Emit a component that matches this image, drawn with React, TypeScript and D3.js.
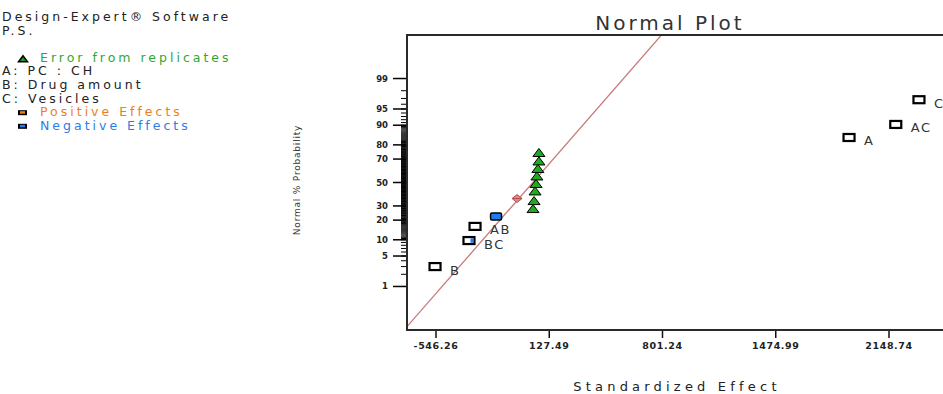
import React from "react";
import * as d3 from "d3";

// ---- data ----
const xTicks = [-546.26, 127.49, 801.24, 1474.99, 2148.74];
const xTickLabels = ["-546.26", "127.49", "801.24", "1474.99", "2148.74"];
const yTicks = [1, 5, 10, 20, 30, 50, 70, 80, 90, 95, 99];

// labelled factor effects
const factorLabels = ["B", "BC", "AB", "A", "AC", "C"];
const factorEffects = [-552, -350, -314, 1911, 2189, 2327];
const factorProbs = [3.0, 9.7, 16.3, 84.3, 90.3, 96.8];
const factorKinds = ["plain", "halfBlue", "plain", "plain", "plain", "plain"];

// error from replicates (green triangles)
const errorEffects = [66, 66, 60, 54, 49, 43, 37, 31];
const errorProbs = [74.9, 68.5, 62.3, 55.8, 49.1, 42.5, 34.3, 28.0];

// unlabelled negative effect (blue) and the centre marker
const negEffects = [-189];
const negProbs = [22.3];
const centreEffects = [-64];
const centreProbs = [36.0];

// fitted normal line
const lineMean = 29.5;
const lineSd = 232;

const legendLines = [
  { text: "Design-Expert® Software", color: "#222", glyph: "" },
  { text: "P.S.", color: "#222", glyph: "" },
  { text: "", color: "#222", glyph: "" },
  { text: "Error from replicates", color: "#2fa82f", glyph: "tri" },
  { text: "A: PC : CH", color: "#222", glyph: "" },
  { text: "B: Drug amount", color: "#222", glyph: "" },
  { text: "C: Vesicles", color: "#222", glyph: "" },
  { text: "Positive Effects", color: "#f07d1a", glyph: "pos" },
  { text: "Negative Effects", color: "#2a7de8", glyph: "neg" },
];

// inverse normal CDF (Acklam)
function probit(p: number): number {
  const a = [-3.969683028665376e1, 2.209460984245205e2, -2.759285104469687e2, 1.38357751867269e2, -3.066479806614716e1, 2.506628277459239];
  const b = [-5.447609879822406e1, 1.615858368580409e2, -1.556989798598866e2, 6.680131188771972e1, -1.328068155288572e1];
  const c = [-7.784894002430293e-3, -3.223964580411365e-1, -2.400758277161838, -2.549732539343734, 4.374664141464968, 2.938163982698783];
  const d = [7.784695709041462e-3, 3.224671290700398e-1, 2.445134137142996, 3.754408661907416];
  const pl = 0.02425;
  if (p < pl) {
    const q = Math.sqrt(-2 * Math.log(p));
    return (((((c[0] * q + c[1]) * q + c[2]) * q + c[3]) * q + c[4]) * q + c[5]) / ((((d[0] * q + d[1]) * q + d[2]) * q + d[3]) * q + 1);
  }
  if (p > 1 - pl) {
    const q = Math.sqrt(-2 * Math.log(1 - p));
    return -(((((c[0] * q + c[1]) * q + c[2]) * q + c[3]) * q + c[4]) * q + c[5]) / ((((d[0] * q + d[1]) * q + d[2]) * q + d[3]) * q + 1);
  }
  const q = p - 0.5;
  const r = q * q;
  return ((((((a[0] * r + a[1]) * r + a[2]) * r + a[3]) * r + a[4]) * r + a[5]) * q) / (((((b[0] * r + b[1]) * r + b[2]) * r + b[3]) * r + b[4]) * r + 1);
}

const W = 943;
const H = 394;
const left = 407, right = 965, top = 35, bottom = 330;

const FONT = "'DejaVu Sans', Verdana, sans-serif";

export default function App() {
  const x = d3.scaleLinear().domain([xTicks[0], xTicks[4]]).range([436, 889]);
  const z = d3.scaleLinear().domain([-3.3, 3.3]).range([bottom, top]);
  const y = (pct: number) => z(probit(pct / 100));

  // minor ticks: every 1%, plus half-percent steps in the middle (dense band)
  const minorTicks = d3.range(1, 100).concat(d3.range(10.5, 90, 1));
  const xMin = x.invert(left), xMax = x.invert(right);
  const linePts: [number, number][] = [xMin, xMax].map((v) => [x(v), z((v - lineMean) / lineSd)]);
  const line = d3.line();

  const tri = (cx: number, cy: number, w: number, h: number) =>
    `M${cx - w / 2},${cy + h / 2}L${cx},${cy - h / 2}L${cx + w / 2},${cy + h / 2}Z`;

  return (
    <svg width={W} height={H} style={{ position: "absolute", left: 0, top: 0, background: "#fff" }} fontFamily={FONT}>
      <defs>
        <clipPath id="plotClip">
          <rect x={left} y={top} width={right - left} height={bottom - top} />
        </clipPath>
      </defs>

      {/* legend block */}
      {legendLines.map((l, i) => {
        const ly = 22 + i * 13.6;
        const tx = l.glyph ? 40 : 2;
        return (
          <g key={i}>
            {l.glyph === "tri" && <path d={tri(23, ly - 4, 9, 6)} fill="#1c9a1c" stroke="#000" strokeWidth={1.5} />}
            {l.glyph === "pos" && (
              <g>
                <rect x={18} y={ly - 7} width={9} height={5} fill="#000" />
                <rect x={20} y={ly - 6} width={5} height={2.5} fill="#f07d1a" />
              </g>
            )}
            {l.glyph === "neg" && (
              <g>
                <rect x={18} y={ly - 7} width={9} height={5} fill="#000" />
                <rect x={20} y={ly - 6} width={5} height={2.5} fill="#2a7de8" />
              </g>
            )}
            {l.text && (
              <text x={tx} y={ly - 1} fontSize={12.5} fill={l.color} letterSpacing={3}>
                {l.text}
              </text>
            )}
          </g>
        );
      })}

      {/* title */}
      <text x={670} y={30} textAnchor="middle" fontSize={20} fill="#333" letterSpacing={3}>
        Normal Plot
      </text>

      {/* y axis title */}
      <text
        transform={`translate(300,180) rotate(-90)`}
        textAnchor="middle"
        fontSize={9}
        fill="#333"
        letterSpacing={0.8}
      >
        Normal % Probability
      </text>

      {/* y minor ticks */}
      {minorTicks.map((p) => (
        <line key={p} x1={left - 6} x2={left} y1={y(p)} y2={y(p)} stroke="#000" strokeWidth={1} />
      ))}
      {/* y major ticks */}
      {yTicks.map((p) => (
        <g key={p}>
          <line x1={left - 14} x2={left} y1={y(p)} y2={y(p)} stroke="#000" strokeWidth={1.5} />
          <text x={388} y={y(p) + 3} textAnchor="end" fontSize={8.5} fill="#222" fontWeight="bold">
            {p}
          </text>
        </g>
      ))}

      {/* x ticks */}
      {xTicks.map((v, i) => (
        <g key={v}>
          <line x1={x(v)} x2={x(v)} y1={bottom} y2={bottom + 8} stroke="#111" strokeWidth={1.5} />
          <text x={x(v)} y={349} textAnchor="middle" fontSize={9.5} fill="#222" fontWeight="bold" letterSpacing={0.6}>
            {xTickLabels[i]}
          </text>
        </g>
      ))}

      <text x={677} y={391} textAnchor="middle" fontSize={13} fill="#222" letterSpacing={4.2}>
        Standardized Effect
      </text>

      {/* fitted line */}
      <path d={line(linePts) || ""} stroke="#c77a7a" strokeWidth={1.3} fill="none" clipPath="url(#plotClip)" />

      {/* frame */}
      <rect x={left} y={top} width={right - left} height={bottom - top} fill="none" stroke="#2a2a2a" strokeWidth={2} />

      {/* error triangles */}
      {errorEffects.map((v, i) => (
        <path key={i} d={tri(x(v), y(errorProbs[i]), 12, 8)} fill="#1faa1f" stroke="#000" strokeWidth={1} />
      ))}

      {/* centre marker */}
      {centreEffects.map((v, i) => {
        const cx = x(v), cy = y(centreProbs[i]);
        return (
          <g key={i}>
            <path d={`M${cx - 5},${cy}L${cx},${cy - 4}L${cx + 5},${cy}L${cx},${cy + 4}Z`} fill="#d98a8a" stroke="#b85050" strokeWidth={1} />
            <line x1={cx - 5} x2={cx + 5} y1={cy} y2={cy} stroke="#b85050" strokeWidth={1} />
          </g>
        );
      })}

      {/* negative effect */}
      {negEffects.map((v, i) => (
        <rect key={i} x={x(v) - 5.5} y={y(negProbs[i]) - 3.5} width={11} height={7} rx={1.5} fill="#1e7bf0" stroke="#000" strokeWidth={1.5} />
      ))}

      {/* labelled factors */}
      {factorEffects.map((v, i) => {
        const cx = x(v), cy = y(factorProbs[i]);
        return (
          <g key={i}>
            <rect x={cx - 5.5} y={cy - 3.5} width={11} height={7} fill="#fff" stroke="#000" strokeWidth={2.2} />
            {factorKinds[i] === "halfBlue" && <rect x={cx + 1.5} y={cy - 2.2} width={2.5} height={4.4} fill="#1e7bf0" />}
            <text x={cx + 15} y={cy + 8} fontSize={13} fill="#333" letterSpacing={1.5}>
              {factorLabels[i]}
            </text>
          </g>
        );
      })}
    </svg>
  );
}
